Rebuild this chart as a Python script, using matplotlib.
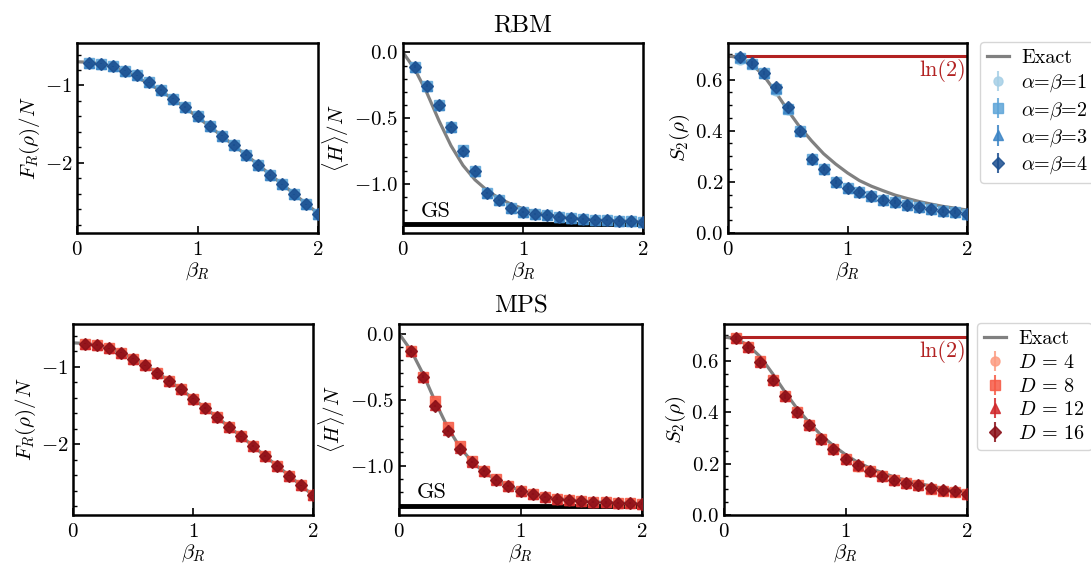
import numpy as np
import matplotlib
matplotlib.use("Agg")
import matplotlib.pyplot as plt
from matplotlib.ticker import AutoMinorLocator

plt.rcParams['font.family'] = 'serif'
plt.rcParams['font.serif'] = ['cmr10']
plt.rcParams['mathtext.fontset'] = 'cm'
plt.rcParams['axes.formatter.use_mathtext'] = True
plt.rcParams['font.size'] = 14

# inverse temperature grid
beta = [0.1, 0.2, 0.3, 0.4, 0.5, 0.6, 0.7, 0.8, 0.9, 1.0,
        1.1, 1.2, 1.3, 1.4, 1.5, 1.6, 1.7, 1.8, 1.9, 2.0]
beta_exact = [0.0] + beta

# exact curves
F_exact = [-0.693, -0.70, -0.72, -0.76, -0.82, -0.895, -0.98, -1.075, -1.18, -1.29, -1.41,
           -1.53, -1.65, -1.775, -1.895, -2.02, -2.15, -2.275, -2.40, -2.53, -2.655]
H_exact = [0.0, -0.13, -0.31, -0.52, -0.71, -0.86, -0.97, -1.05, -1.11, -1.155, -1.19,
           -1.215, -1.235, -1.25, -1.26, -1.268, -1.275, -1.28, -1.283, -1.286, -1.288]
S_exact = [0.693, 0.685, 0.66, 0.615, 0.55, 0.48, 0.415, 0.36, 0.31, 0.27, 0.235,
           0.205, 0.183, 0.165, 0.148, 0.135, 0.123, 0.113, 0.104, 0.097, 0.09]
E_GS = -1.31
LN2 = 0.693

# RBM results, alpha = beta = 1..4
rbm_F_1 = [-0.704, -0.717, -0.75, -0.81, -0.87, -0.96, -1.06, -1.17, -1.28, -1.40,
           -1.53, -1.65, -1.77, -1.90, -2.03, -2.16, -2.28, -2.41, -2.54, -2.67]
rbm_F_2 = [-0.704, -0.717, -0.75, -0.81, -0.87, -0.96, -1.06, -1.17, -1.28, -1.40,
           -1.53, -1.65, -1.77, -1.90, -2.03, -2.16, -2.28, -2.41, -2.54, -2.67]
rbm_F_3 = [-0.704, -0.717, -0.75, -0.81, -0.87, -0.96, -1.06, -1.17, -1.28, -1.40,
           -1.53, -1.65, -1.77, -1.90, -2.03, -2.16, -2.28, -2.41, -2.54, -2.67]
rbm_F_4 = [-0.704, -0.717, -0.75, -0.81, -0.87, -0.96, -1.06, -1.17, -1.28, -1.40,
           -1.53, -1.65, -1.77, -1.90, -2.03, -2.16, -2.28, -2.41, -2.54, -2.67]

rbm_H_1 = [-0.107, -0.252, -0.399, -0.56, -0.74, -0.905, -1.073, -1.124, -1.188, -1.213,
           -1.229, -1.241, -1.252, -1.262, -1.27, -1.275, -1.277, -1.28, -1.284, -1.29]
rbm_H_2 = [-0.107, -0.252, -0.399, -0.565, -0.745, -0.905, -1.073, -1.124, -1.188, -1.213,
           -1.229, -1.241, -1.252, -1.262, -1.27, -1.275, -1.277, -1.28, -1.284, -1.29]
rbm_H_3 = [-0.107, -0.252, -0.399, -0.57, -0.748, -0.905, -1.073, -1.124, -1.188, -1.213,
           -1.229, -1.241, -1.252, -1.262, -1.27, -1.275, -1.277, -1.28, -1.284, -1.29]
rbm_H_4 = [-0.107, -0.252, -0.399, -0.57, -0.748, -0.905, -1.073, -1.124, -1.188, -1.213,
           -1.229, -1.241, -1.252, -1.262, -1.27, -1.275, -1.277, -1.28, -1.284, -1.29]

rbm_S_1 = [0.675, 0.66, 0.624, 0.555, 0.482, 0.40, 0.287, 0.25, 0.199, 0.176,
           0.16, 0.142, 0.13, 0.12, 0.108, 0.101, 0.093, 0.086, 0.08, 0.074]
rbm_S_2 = [0.684, 0.662, 0.625, 0.562, 0.486, 0.40, 0.29, 0.252, 0.2, 0.177,
           0.161, 0.143, 0.131, 0.121, 0.109, 0.102, 0.094, 0.087, 0.081, 0.075]
rbm_S_3 = [0.688, 0.663, 0.626, 0.568, 0.49, 0.40, 0.291, 0.252, 0.201, 0.177,
           0.161, 0.143, 0.131, 0.121, 0.109, 0.102, 0.094, 0.087, 0.081, 0.075]
rbm_S_4 = [0.689, 0.663, 0.626, 0.57, 0.491, 0.40, 0.291, 0.252, 0.201, 0.177,
           0.161, 0.143, 0.131, 0.121, 0.109, 0.102, 0.094, 0.087, 0.081, 0.075]

# MPS results, D = 4, 8, 12, 16
mps_F_4 = [-0.704, -0.722, -0.764, -0.82, -0.897, -0.983, -1.077, -1.185, -1.292, -1.412,
           -1.533, -1.652, -1.777, -1.897, -2.022, -2.15, -2.279, -2.403, -2.528, -2.657]
mps_F_8 = [-0.704, -0.722, -0.764, -0.82, -0.897, -0.983, -1.077, -1.185, -1.292, -1.412,
           -1.533, -1.652, -1.777, -1.897, -2.022, -2.15, -2.279, -2.403, -2.528, -2.657]
mps_F_12 = [-0.704, -0.722, -0.764, -0.82, -0.897, -0.983, -1.077, -1.185, -1.292, -1.412,
            -1.533, -1.652, -1.777, -1.897, -2.022, -2.15, -2.279, -2.403, -2.528, -2.657]
mps_F_16 = [-0.704, -0.722, -0.764, -0.82, -0.897, -0.983, -1.077, -1.185, -1.292, -1.412,
            -1.533, -1.652, -1.777, -1.897, -2.022, -2.15, -2.279, -2.403, -2.528, -2.657]

mps_H_4 = [-0.136, -0.326, -0.52, -0.72, -0.86, -0.972, -1.045, -1.11, -1.153, -1.192,
           -1.217, -1.237, -1.25, -1.26, -1.268, -1.275, -1.28, -1.283, -1.286, -1.288]
mps_H_8 = [-0.136, -0.326, -0.51, -0.71, -0.85, -0.965, -1.04, -1.105, -1.153, -1.192,
           -1.217, -1.237, -1.25, -1.26, -1.268, -1.275, -1.28, -1.283, -1.286, -1.288]
mps_H_12 = [-0.136, -0.326, -0.54, -0.73, -0.87, -0.972, -1.045, -1.11, -1.153, -1.192,
            -1.217, -1.237, -1.25, -1.26, -1.268, -1.275, -1.28, -1.283, -1.286, -1.288]
mps_H_16 = [-0.136, -0.326, -0.548, -0.738, -0.874, -0.972, -1.045, -1.11, -1.153, -1.192,
            -1.217, -1.237, -1.25, -1.26, -1.268, -1.275, -1.28, -1.283, -1.286, -1.288]

mps_S_4 = [0.688, 0.655, 0.60, 0.524, 0.461, 0.399, 0.349, 0.297, 0.258, 0.219,
           0.185, 0.168, 0.15, 0.135, 0.122, 0.114, 0.10, 0.094, 0.09, 0.082]
mps_S_8 = [0.688, 0.655, 0.598, 0.524, 0.461, 0.399, 0.349, 0.297, 0.258, 0.219,
           0.19, 0.17, 0.151, 0.136, 0.123, 0.115, 0.102, 0.095, 0.091, 0.083]
mps_S_12 = [0.688, 0.655, 0.595, 0.524, 0.461, 0.399, 0.349, 0.297, 0.258, 0.219,
            0.193, 0.171, 0.152, 0.136, 0.123, 0.116, 0.104, 0.096, 0.092, 0.083]
mps_S_16 = [0.688, 0.655, 0.595, 0.524, 0.461, 0.399, 0.349, 0.297, 0.258, 0.219,
            0.193, 0.171, 0.152, 0.136, 0.123, 0.116, 0.104, 0.096, 0.092, 0.083]

err = 0.008

rbm_labels = [r'$\alpha$=$\beta$=1', r'$\alpha$=$\beta$=2', r'$\alpha$=$\beta$=3', r'$\alpha$=$\beta$=4']
mps_labels = [r'$D\,=\,4$', r'$D\,=\,8$', r'$D\,=\,12$', r'$D\,=\,16$']
blues = ['#a6cfe6', '#5ea5d8', '#3b84c5', '#1c4f8f']
reds = ['#fc9c82', '#f65a45', '#d0282b', '#8a1018']
markers = ['o', 's', '^', 'D']

rbm_F = [rbm_F_1, rbm_F_2, rbm_F_3, rbm_F_4]
rbm_H = [rbm_H_1, rbm_H_2, rbm_H_3, rbm_H_4]
rbm_S = [rbm_S_1, rbm_S_2, rbm_S_3, rbm_S_4]
mps_F = [mps_F_4, mps_F_8, mps_F_12, mps_F_16]
mps_H = [mps_H_4, mps_H_8, mps_H_12, mps_H_16]
mps_S = [mps_S_4, mps_S_8, mps_S_12, mps_S_16]

W, H = 1091, 569
fig = plt.figure(figsize=(W / 100, H / 100), dpi=100)


def box(x0, x1, y0, y1):
    return [x0 / W, 1 - y1 / H, (x1 - x0) / W, (y1 - y0) / H]


rows = [
    dict(pos=[box(77, 318, 43, 233), box(403, 643, 43, 233), box(728, 967, 43, 233)],
         data=[rbm_F, rbm_H, rbm_S], colors=blues, labels=rbm_labels, title='RBM', anchor=1.055),
    dict(pos=[box(73, 313, 324, 515), box(399, 642, 324, 515), box(724, 967, 324, 515)],
         data=[mps_F, mps_H, mps_S], colors=reds, labels=mps_labels, title='MPS', anchor=1.04),
]

exacts = [F_exact, H_exact, S_exact]
ylabels = [r'$F_R(\rho)/N$', r'$\langle H\rangle/N$', r'$S_2(\rho)$']
ylims = [(-2.91, -0.45), (-1.375, 0.072), (0.0, 0.743)]
yticks = [[-2, -1], [-1.0, -0.5, 0.0], [0.0, 0.2, 0.4, 0.6]]

for row in rows:
    axes = []
    for k in range(3):
        ax = fig.add_axes(row['pos'][k])
        axes.append(ax)
        if k == 1:
            ax.axhline(E_GS, color='black', lw=3.5, zorder=1)
            ax.text(0.15, E_GS + 0.03, 'GS', ha='left', va='bottom', fontsize=16)
        if k == 2:
            ax.axhline(LN2, color='#b22222', lw=2.2, zorder=1)
            ax.text(1.99, LN2 - 0.012, r'ln(2)', color='#b22222', ha='right', va='top',
                    fontsize=16)
        ax.plot(beta_exact, exacts[k], color='gray', lw=2.3, label='Exact', zorder=2)
        for j in range(4):
            ax.errorbar(beta, row['data'][k][j], yerr=err, fmt=markers[j], ms=6.5,
                        color=row['colors'][j], alpha=0.85, label=row['labels'][j], zorder=3 + j)
        ax.set_xlim(0, 2)
        ax.set_ylim(*ylims[k])
        ax.set_xticks([0, 1, 2])
        ax.set_yticks(yticks[k])
        ax.yaxis.set_minor_locator(AutoMinorLocator())
        ax.tick_params(direction='in', which='both', top=False, right=False, labelsize=15)
        ax.tick_params(which='major', length=5, width=1.2)
        ax.tick_params(which='minor', length=3, width=1.0)
        ax.tick_params(axis='x', pad=6)
        for s in ax.spines.values():
            s.set_linewidth(1.8)
        ax.set_xlabel(r'$\beta_R$', fontsize=15, labelpad=1)
        ax.set_ylabel(ylabels[k], fontsize=15, labelpad=2)
    axes[1].set_title(row['title'], fontsize=18, pad=8)
    axes[2].legend(loc='upper left', bbox_to_anchor=(row['anchor'], 1.005), borderaxespad=0,
                   handlelength=1.1, handletextpad=0.6, borderpad=0.35,
                   fontsize=14.5, labelspacing=0.28)

fig.savefig('out.png', dpi=100)
